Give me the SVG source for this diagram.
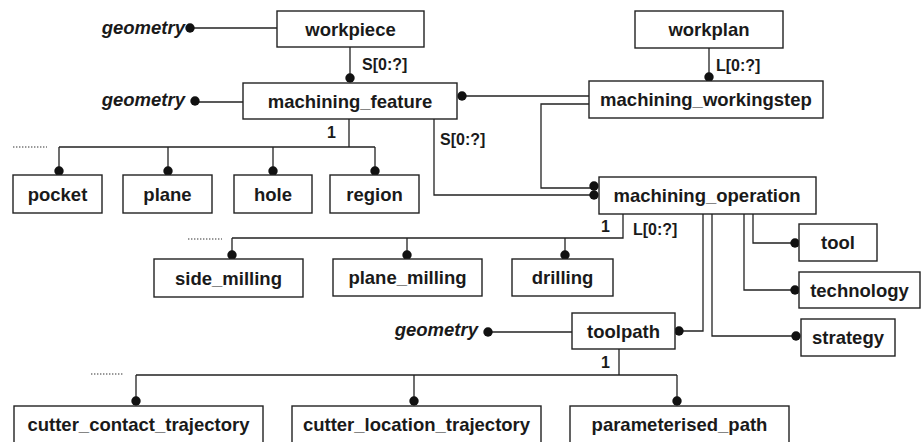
<svg xmlns="http://www.w3.org/2000/svg" width="923" height="442" viewBox="0 0 923 442">
<style>
.box{fill:#fff;stroke:#222;stroke-width:1.4}
.t{font-family:"Liberation Sans",Arial,sans-serif;font-weight:bold;font-size:18.5px;fill:#1a1a1a;text-anchor:middle}
.g{font-family:"Liberation Sans",Arial,sans-serif;font-weight:bold;font-style:italic;font-size:18.5px;fill:#1a1a1a;text-anchor:end}
.l{font-family:"Liberation Sans",Arial,sans-serif;font-weight:bold;font-size:16px;fill:#1a1a1a}
.c{fill:none;stroke:#222;stroke-width:1.3}
.d{fill:none;stroke:#333;stroke-width:1.1;stroke-dasharray:1.4 1.6}
.dot{fill:#111}
</style>
<rect width="923" height="442" fill="#fff"/>
<g id="connectors">
  <path class="c" d="M190 28H277"/>
  <path class="c" d="M350 47V78"/>
  <path class="c" d="M195 102H243"/>
  <path class="c" d="M462 96H589"/>
  <path class="c" d="M589 104H541V188H594"/>
  <path class="c" d="M434 119V195H594"/>
  <path class="c" d="M709 48V77"/>
  <path class="c" d="M349 119V147M59 147H375M59 147V171M168 147V171M273 147V171M375 147V171"/>
  <path class="d" d="M13 147H47"/>
  <path class="c" d="M623 214V238H232M232 238V255M407 238V255M565 238V255"/>
  <path class="d" d="M188 239H222"/>
  <path class="c" d="M753 214V243H795"/>
  <path class="c" d="M744 214V290H795"/>
  <path class="c" d="M712 214V336H796"/>
  <path class="c" d="M703 214V331H679"/>
  <path class="c" d="M488 332H572"/>
  <path class="c" d="M619 349V375M136 375H677M136 375V401M414 375V401M677 375V401"/>
  <path class="d" d="M91 374H124"/>
  <g class="dot">
    <circle cx="190" cy="28" r="4.7"/>
    <circle cx="350" cy="78" r="4.7"/>
    <circle cx="195" cy="101" r="4.7"/>
    <circle cx="462" cy="96" r="4.7"/>
    <circle cx="709" cy="77" r="4.7"/>
    <circle cx="594" cy="186" r="4.7"/>
    <circle cx="594" cy="195" r="4.7"/>
    <circle cx="59" cy="171" r="4.7"/>
    <circle cx="168" cy="171" r="4.7"/>
    <circle cx="273" cy="171" r="4.7"/>
    <circle cx="375" cy="171" r="4.7"/>
    <circle cx="232" cy="255" r="4.7"/>
    <circle cx="407" cy="255" r="4.7"/>
    <circle cx="565" cy="255" r="4.7"/>
    <circle cx="795" cy="243" r="4.7"/>
    <circle cx="795" cy="290" r="4.7"/>
    <circle cx="796" cy="336" r="4.7"/>
    <circle cx="679" cy="331" r="4.7"/>
    <circle cx="488" cy="332" r="4.7"/>
    <circle cx="136" cy="401" r="4.7"/>
    <circle cx="414" cy="401" r="4.7"/>
    <circle cx="677" cy="401" r="4.7"/>
  </g>
  <text class="l" x="362" y="70">S[0:?]</text>
  <text class="l" x="716" y="71">L[0:?]</text>
  <text class="l" x="440" y="145">S[0:?]</text>
  <text class="l" x="327" y="138">1</text>
  <text class="l" x="601" y="232">1</text>
  <text class="l" x="633" y="235">L[0:?]</text>
  <text class="l" x="601" y="368">1</text>
</g>
<g id="geometry1"><text class="g" x="185" y="34">geometry</text></g>
<g id="geometry2"><text class="g" x="185" y="106">geometry</text></g>
<g id="geometry3"><text class="g" x="478" y="336">geometry</text></g>
<g id="workpiece"><rect class="box" x="277" y="11" width="147" height="36"/><text class="t" x="350.5" y="35.5">workpiece</text></g>
<g id="workplan"><rect class="box" x="635" y="11" width="148" height="37"/><text class="t" x="709" y="36">workplan</text></g>
<g id="machining_feature"><rect class="box" x="243" y="83" width="214" height="36"/><text class="t" x="350" y="107.5">machining_feature</text></g>
<g id="machining_workingstep"><rect class="box" x="589" y="81" width="234" height="37"/><text class="t" x="706" y="106">machining_workingstep</text></g>
<g id="pocket"><rect class="box" x="13" y="175" width="89" height="38"/><text class="t" x="57.5" y="200.5">pocket</text></g>
<g id="plane"><rect class="box" x="123" y="175" width="89" height="38"/><text class="t" x="167.5" y="200.5">plane</text></g>
<g id="hole"><rect class="box" x="234" y="175" width="78" height="38"/><text class="t" x="273" y="200.5">hole</text></g>
<g id="region"><rect class="box" x="330" y="175" width="89" height="38"/><text class="t" x="374.5" y="200.5">region</text></g>
<g id="machining_operation"><rect class="box" x="599" y="177" width="217" height="37"/><text class="t" x="707" y="202">machining_operation</text></g>
<g id="side_milling"><rect class="box" x="154" y="259" width="149" height="38"/><text class="t" x="228.5" y="284.5">side_milling</text></g>
<g id="plane_milling"><rect class="box" x="333" y="259" width="149" height="37"/><text class="t" x="407.5" y="284">plane_milling</text></g>
<g id="drilling"><rect class="box" x="512" y="259" width="101" height="37"/><text class="t" x="562.5" y="284">drilling</text></g>
<g id="tool"><rect class="box" x="799" y="224" width="78" height="37"/><text class="t" x="838" y="249">tool</text></g>
<g id="technology"><rect class="box" x="799" y="272" width="121" height="36"/><text class="t" x="859.5" y="296.5">technology</text></g>
<g id="strategy"><rect class="box" x="801" y="319" width="94" height="37"/><text class="t" x="848" y="344">strategy</text></g>
<g id="toolpath"><rect class="box" x="572" y="313" width="103" height="36"/><text class="t" x="623.5" y="337.5">toolpath</text></g>
<g id="cutter_contact_trajectory"><rect class="box" x="14" y="406" width="249" height="38"/><text class="t" x="138.5" y="431">cutter_contact_trajectory</text></g>
<g id="cutter_location_trajectory"><rect class="box" x="292" y="406" width="249" height="38"/><text class="t" x="416.5" y="431">cutter_location_trajectory</text></g>
<g id="parameterised_path"><rect class="box" x="570" y="406" width="219" height="38"/><text class="t" x="679.5" y="431">parameterised_path</text></g>
</svg>
